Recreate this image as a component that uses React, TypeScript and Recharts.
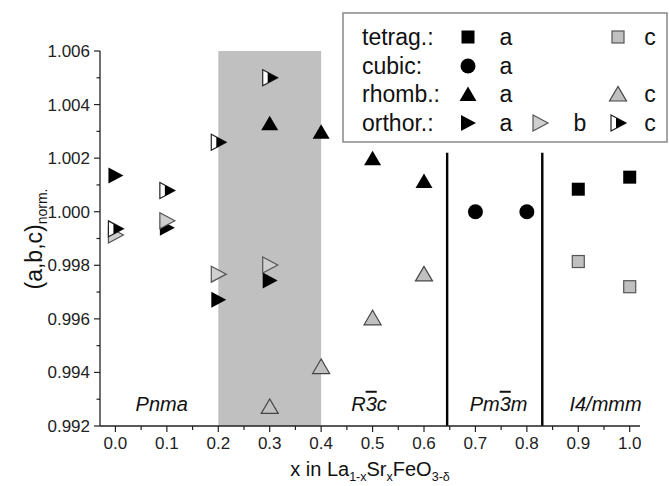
import React from 'react';
import {
  ScatterChart, Scatter, XAxis, YAxis, ReferenceArea, ReferenceLine, ReferenceDot, Customized,
} from 'recharts';

// ---- data ----
const orthoX = [0.0, 0.1, 0.2, 0.3];
const orthoA = [1.00135, 0.9994, 0.99671, 0.99743];
const orthoB = [0.99913, 0.99966, 0.99767, 0.99801];
const orthoC = [0.99936, 1.00079, 1.00259, 1.005];
const rhombX = [0.3, 0.4, 0.5, 0.6];
const rhombA = [1.0033, 1.00299, 1.002, 1.00115];
const rhombC = [0.99273, 0.99422, 0.99604, 0.99768];
const cubicX = [0.7, 0.8];
const cubicA = [1.0, 1.0];
const tetragX = [0.9, 1.0];
const tetragA = [1.00084, 1.00129];
const tetragC = [0.99814, 0.9972];

const shadedRange = [0.2, 0.4];
const phaseBoundaries = [0.645, 0.83];
const boundaryTop = 1.0022;
const phaseNames = ['Pnma', 'R3c', 'Pm3m', 'I4/mmm'];
const phaseLabelX = [0.09, 0.493, 0.745, 0.953];
const phaseLabelY = 0.99283;

const xTicks = Array.from({ length: 21 }, (_, i) => Math.round(i * 5) / 100);
const yTicks = Array.from({ length: 15 }, (_, i) => Math.round((0.992 + i * 0.001) * 1e6) / 1e6);

const zip = (xs: number[], ys: number[]) => xs.map((x, i) => ({ x, y: ys[i] }));

const FONT = '"Liberation Sans", Arial, Helvetica, sans-serif';
const GRAY = '#c0c0c0';

// ---- marker shapes ----
const SquareBlack = ({ cx, cy }: any) => <rect x={cx - 6.5} y={cy - 6.5} width={13} height={13} fill="#000" />;
const SquareGray = ({ cx, cy }: any) => (
  <rect x={cx - 6} y={cy - 6} width={12} height={12} fill={GRAY} stroke="#555" strokeWidth={1.2} />
);
const CircleBlack = ({ cx, cy }: any) => <circle cx={cx} cy={cy} r={7.5} fill="#000" />;
const TriUpBlack = ({ cx, cy }: any) => (
  <polygon points={`${cx},${cy - 7.5} ${cx - 8.5},${cy + 7} ${cx + 8.5},${cy + 7}`} fill="#000" />
);
const TriUpGray = ({ cx, cy }: any) => (
  <polygon points={`${cx},${cy - 7.5} ${cx - 8.5},${cy + 7} ${cx + 8.5},${cy + 7}`} fill={GRAY} stroke="#444" strokeWidth={1.2} />
);
const TriRightBlack = ({ cx, cy }: any) => (
  <polygon points={`${cx - 7},${cy - 8} ${cx - 7},${cy + 8} ${cx + 8},${cy}`} fill="#000" />
);
const TriRightGray = ({ cx, cy }: any) => (
  <polygon points={`${cx - 7},${cy - 8} ${cx - 7},${cy + 8} ${cx + 8},${cy}`} fill="#cfcfcf" stroke="#555" strokeWidth={1.2} />
);
const TriRightHalf = ({ cx, cy }: any) => {
  const xs = cx - 2;
  const h = (8 * (cx + 8 - xs)) / 15;
  return (
    <g>
      <polygon points={`${cx - 7},${cy - 8} ${cx - 7},${cy + 8} ${cx + 8},${cy}`} fill="#fff" stroke="#222" strokeWidth={1.2} />
      <polygon points={`${xs},${cy - h} ${xs},${cy + h} ${cx + 8},${cy}`} fill="#000" />
    </g>
  );
};

// ---- ticks ----
const YTick = ({ x, y, payload }: any) => {
  const v = payload.value;
  const major = Math.round(v * 1000) % 2 === 0;
  return (
    <g>
      <line x1={x - (major ? 6 : 3.5)} y1={y} x2={x} y2={y} stroke="#222" strokeWidth={1.2} />
      {major && (
        <text x={x - 10} y={y + 6} textAnchor="end" fontSize={17} fontFamily={FONT} fill="#222">
          {v.toFixed(3)}
        </text>
      )}
    </g>
  );
};
const XTick = ({ x, y, payload }: any) => {
  const v = payload.value;
  const major = Math.round(v * 100) % 10 === 0;
  return (
    <g>
      <line x1={x} y1={y} x2={x} y2={y + (major ? 6 : 4)} stroke="#222" strokeWidth={1.2} />
      {major && (
        <text x={x} y={y + 23} textAnchor="middle" fontSize={17} fontFamily={FONT} fill="#222">
          {v.toFixed(1)}
        </text>
      )}
    </g>
  );
};

const XLabel = ({ viewBox }: any) => {
  const cx = viewBox.x + viewBox.width / 2;
  return (
    <text x={cx} y={476} textAnchor="middle" fontSize={20} fontFamily={FONT} fill="#111">
      <tspan>x in La</tspan>
      <tspan fontSize={12.5} dy={5}>1-x</tspan>
      <tspan dy={-5}>Sr</tspan>
      <tspan fontSize={12.5} dy={5}>x</tspan>
      <tspan dy={-5}>FeO</tspan>
      <tspan fontSize={12.5} dy={5}>3-δ</tspan>
    </text>
  );
};

const YLabel = () => (
  <text x={0} y={0} transform="translate(42,239) rotate(-90)" textAnchor="middle" fontSize={23} fontFamily={FONT} fill="#111">
    <tspan>(a,b,c)</tspan>
    <tspan fontSize={14} dy={5}>norm.</tspan>
  </text>
);

const PhaseText = ({ cx, cy, name }: any) => {
  const common = { fontSize: 20, fontFamily: FONT, fontStyle: 'italic', fill: '#111', textAnchor: 'middle' as const };
  if (name === 'R3c') {
    return (
      <text x={cx} y={cy + 7} {...common}>
        <tspan>R</tspan>
        <tspan style={{ textDecoration: 'overline' }}>3</tspan>
        <tspan>c</tspan>
      </text>
    );
  }
  if (name === 'Pm3m') {
    return (
      <text x={cx} y={cy + 7} {...common}>
        <tspan>Pm</tspan>
        <tspan style={{ textDecoration: 'overline' }}>3</tspan>
        <tspan>m</tspan>
      </text>
    );
  }
  return (
    <text x={cx} y={cy + 7} {...common}>
      {name}
    </text>
  );
};

// ---- legend ----
const legendRows = ['tetrag.:', 'cubic:', 'rhomb.:', 'orthor.:'];
const LegendBox = () => {
  const rowY = [37, 66, 94, 123];
  const t = (x: number, y: number, s: string, anchor: 'start' | 'middle' = 'middle') => (
    <text x={x} y={y + 8} fontSize={23} fontFamily={FONT} fill="#111" textAnchor={anchor}>{s}</text>
  );
  return (
    <g>
      <rect x={343} y={13} width={324} height={129} fill="#fff" stroke="#888" strokeWidth={1.5} />
      {legendRows.map((r, i) => <g key={r}>{t(362, rowY[i], r, 'start')}</g>)}
      <SquareBlack cx={468} cy={rowY[0]} />
      {t(506, rowY[0], 'a')}
      <SquareGray cx={618} cy={rowY[0]} />
      {t(650, rowY[0], 'c')}
      <CircleBlack cx={468} cy={rowY[1]} />
      {t(506, rowY[1], 'a')}
      <TriUpBlack cx={468} cy={rowY[2]} />
      {t(506, rowY[2], 'a')}
      <TriUpGray cx={618} cy={rowY[2]} />
      {t(650, rowY[2], 'c')}
      <TriRightBlack cx={468} cy={rowY[3]} />
      {t(506, rowY[3], 'a')}
      <TriRightGray cx={540} cy={rowY[3]} />
      {t(580, rowY[3], 'b')}
      <TriRightHalf cx={618} cy={rowY[3]} />
      {t(650, rowY[3], 'c')}
    </g>
  );
};

export default function App() {
  return (
    <div style={{ position: 'absolute', left: 0, top: 0, width: 669, height: 486, background: '#fff' }}>
      <ScatterChart width={669} height={486} margin={{ top: 51, right: 29, bottom: 0, left: 0 }}>
        <XAxis
          type="number"
          dataKey="x"
          domain={[-0.03, 1.02]}
          allowDataOverflow
          ticks={xTicks}
          interval={0}
          tickSize={0}
          tickMargin={0}
          tick={<XTick />}
          height={60}
          axisLine={{ stroke: '#222', strokeWidth: 1.3 }}
          label={<XLabel />}
        />
        <YAxis
          type="number"
          dataKey="y"
          domain={[0.992, 1.006]}
          allowDataOverflow
          ticks={yTicks}
          interval={0}
          tickSize={0}
          tickMargin={0}
          tick={<YTick />}
          width={100}
          axisLine={{ stroke: '#222', strokeWidth: 1.3 }}
        />
        <ReferenceArea x1={shadedRange[0]} x2={shadedRange[1]} y1={0.992} y2={1.006} fill={GRAY} fillOpacity={1} stroke="none" />
        {phaseBoundaries.map((b) => (
          <ReferenceLine key={b} segment={[{ x: b, y: boundaryTop }, { x: b, y: 0.992 }]} stroke="#000" strokeWidth={2.4} />
        ))}
        {phaseNames.map((n, i) => (
          <ReferenceDot key={n} x={phaseLabelX[i]} y={phaseLabelY} r={1} shape={(p: any) => <PhaseText cx={p.cx} cy={p.cy} name={n} />} />
        ))}
        <Scatter data={zip(orthoX, orthoA)} shape={(p: any) => <TriRightBlack cx={p.cx} cy={p.cy} />} isAnimationActive={false} />
        <Scatter data={zip(orthoX, orthoB)} shape={(p: any) => <TriRightGray cx={p.cx} cy={p.cy} />} isAnimationActive={false} />
        <Scatter data={zip(orthoX, orthoC)} shape={(p: any) => <TriRightHalf cx={p.cx} cy={p.cy} />} isAnimationActive={false} />
        <Scatter data={zip(rhombX, rhombA)} shape={(p: any) => <TriUpBlack cx={p.cx} cy={p.cy} />} isAnimationActive={false} />
        <Scatter data={zip(rhombX, rhombC)} shape={(p: any) => <TriUpGray cx={p.cx} cy={p.cy} />} isAnimationActive={false} />
        <Scatter data={zip(cubicX, cubicA)} shape={(p: any) => <CircleBlack cx={p.cx} cy={p.cy} />} isAnimationActive={false} />
        <Scatter data={zip(tetragX, tetragA)} shape={(p: any) => <SquareBlack cx={p.cx} cy={p.cy} />} isAnimationActive={false} />
        <Scatter data={zip(tetragX, tetragC)} shape={(p: any) => <SquareGray cx={p.cx} cy={p.cy} />} isAnimationActive={false} />
        <Customized component={<YLabel />} />
        <Customized component={<LegendBox />} />
      </ScatterChart>
    </div>
  );
}
